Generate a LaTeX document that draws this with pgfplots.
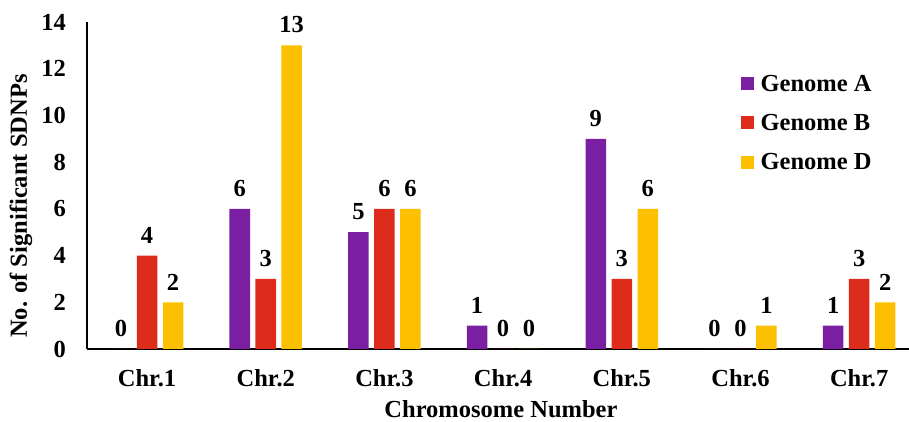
\documentclass[border=0pt]{standalone}
\usepackage{pgfplots}
\pgfplotsset{compat=1.18}
\usepackage{fontspec}
\setmainfont{Liberation Serif}
\definecolor{genA}{RGB}{123,31,162}
\definecolor{genB}{RGB}{221,44,28}
\definecolor{genD}{RGB}{252,192,0}
\begin{document}
\begin{tikzpicture}[font=\fontsize{24.5}{29}\selectfont\bfseries]
\useasboundingbox (0,0) rectangle (909pt,422pt);
\begin{axis}[
  at={(87pt,73pt)}, anchor=south west,
  scale only axis, width=822pt, height=327pt,
  xmin=0.494, xmax=7.42, ymin=0, ymax=14,
  ybar, bar width=0.173,
  axis lines*=left,
  axis line style={line width=1.3pt, black},
  major tick length=0pt,
  xtick={1,2,3,4,5,6,7},
  xticklabels={Chr.1,Chr.2,Chr.3,Chr.4,Chr.5,Chr.6,Chr.7},
  ytick={0,2,...,14},
  /pgf/number format/assume math mode=true,
  xticklabel style={anchor=base, inner sep=0pt, yshift=-37.7pt},
  yticklabel style={anchor=east, inner sep=0pt, xshift=-21pt},
  xlabel={Chromosome Number},
  ylabel={No. of Significant SDNPs},
  xlabel style={at={(axis description cs:0.5036,-0.2080)}, anchor=base, inner sep=0pt},
  ylabel style={at={(axis description cs:-0.073,0.437)}, anchor=base, rotate=0, inner sep=0pt},
  clip=false,
  nodes near coords,
  every node near coord/.append style={anchor=south, inner sep=0pt, yshift=12pt, font=\fontsize{24.5}{29}\selectfont\bfseries, text=black},
  legend style={at={(axis cs:6.0,11.74)}, anchor=north west, draw=none, fill=none, inner sep=0pt,
    row sep=21.4pt, nodes={inner sep=0pt}, /tikz/column sep=7pt},
  legend cell align=left,
  legend image code/.code={\fill[#1] (0pt,-6.5pt) rectangle (13pt,6.5pt);},
]
\addplot[fill=genA, draw=none, bar shift=-0.219] coordinates {(1,0) (2,6) (3,5) (4,1) (5,9) (6,0) (7,1)};
\addplot[fill=genB, draw=none, bar shift=0] coordinates {(1,4) (2,3) (3,6) (4,0) (5,3) (6,0) (7,3)};
\addplot[fill=genD, draw=none, bar shift=0.219] coordinates {(1,2) (2,13) (3,6) (4,0) (5,6) (6,1) (7,2)};
\legend{Genome A, Genome B, Genome D}
\end{axis}
\end{tikzpicture}
\end{document}
